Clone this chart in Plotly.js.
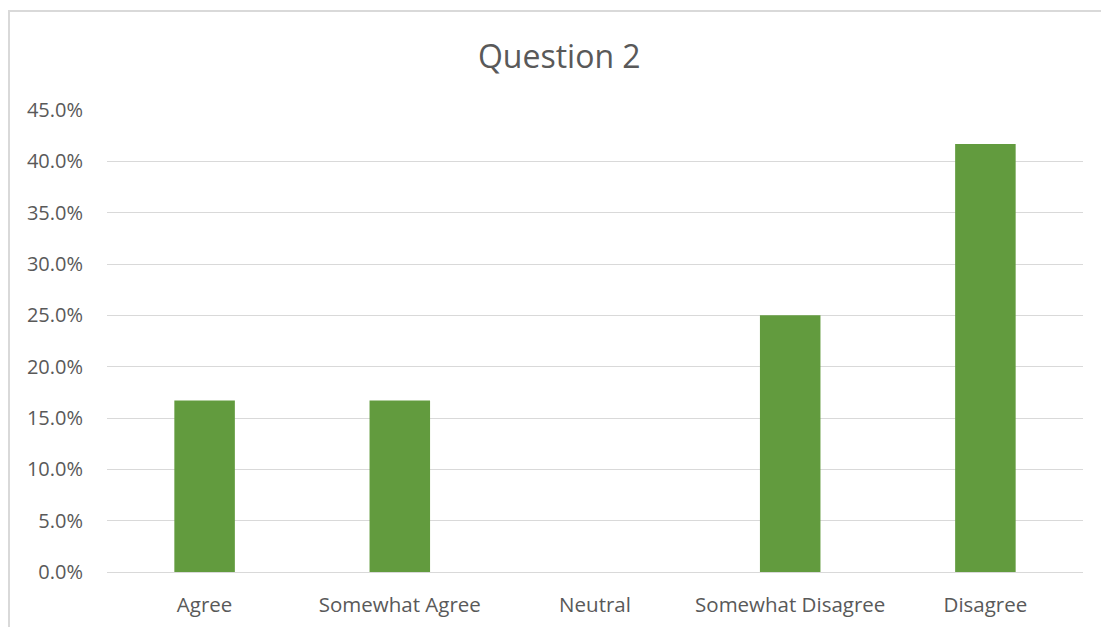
<!DOCTYPE html>
<html>
<head>
<meta charset="utf-8">
<script src="https://cdn.plot.ly/plotly-3.0.1.min.js"></script>
<style>
  html, body { margin: 0; padding: 0; background: #fff; overflow: hidden; }
  #frame { position: absolute; left: 0; top: 0; width: 1101px; height: 627px; overflow: hidden; }
  #border { position: absolute; left: 8px; top: 10px; width: 1093px; height: 617px; border-left: 2px solid #d9d9d9; border-top: 2px solid #d9d9d9; box-sizing: border-box; pointer-events: none; z-index: 2; }
  #chart { position: absolute; left: 0; top: 0; width: 1101px; height: 627px; }
</style>
</head>
<body>
<div id="frame">
  <div id="chart"></div>
  <div id="border"></div>
</div>
<script>
const categories = ["Agree", "Somewhat Agree", "Neutral", "Somewhat Disagree", "Disagree"];
const shares = [0.167, 0.167, 0, 0.25, 0.417];
const yTickValues = [0, 0.05, 0.10, 0.15, 0.20, 0.25, 0.30, 0.35, 0.40, 0.45];

const fontFamily = "'Open Sans', 'Noto Sans', sans-serif";

Plotly.newPlot("chart", [{
  type: "bar",
  x: categories,
  y: shares,
  marker: { color: "#629b3e" },
  hoverinfo: "x+y"
}], {
  width: 1101,
  height: 627,
  margin: { l: 107, r: 18, t: 110, b: 55, pad: 0 },
  paper_bgcolor: "#ffffff",
  plot_bgcolor: "#ffffff",
  bargap: 0.69,
  showlegend: false,
  font: { family: fontFamily, color: "#595959", size: 20 },
  title: {
    text: "Question 2",
    font: { family: fontFamily, size: 32, color: "#595959" },
    x: 0.508, xanchor: "center", xref: "container",
    y: 0.909, yref: "container",
    yanchor: "middle"
  },
  xaxis: {
    type: "category",
    showgrid: false,
    zeroline: false,
    showline: false,
    ticks: "",
    tickfont: { family: fontFamily, size: 20.5, color: "#595959" },
    ticklabelstandoff: 18
  },
  yaxis: {
    range: [0, 0.45],
    tickvals: yTickValues,
    tickformat: ".1%",
    showgrid: true,
    gridcolor: "#d9d9d9",
    gridwidth: 1,
    zeroline: true,
    zerolinecolor: "#d9d9d9",
    zerolinewidth: 1,
    showline: false,
    ticks: "",
    ticklabelstandoff: 23,
    tickfont: { family: fontFamily, size: 20, color: "#595959" }
  }
}, { displayModeBar: false, staticPlot: true });
</script>
</body>
</html>
